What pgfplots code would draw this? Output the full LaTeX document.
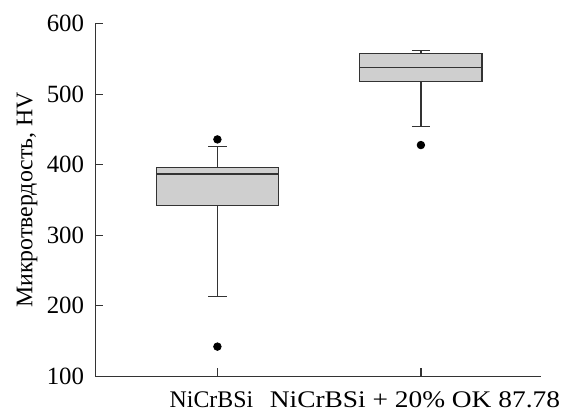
\documentclass[12pt,border=0pt]{standalone}
\usepackage{fontspec}
\setmainfont{Liberation Serif}
\usepackage{graphicx}
\usepackage{pgfplots}
\pgfplotsset{compat=1.18}
\definecolor{boxfill}{HTML}{CFCFCF}
\definecolor{boxline}{HTML}{333333}
\begin{document}
\begin{tikzpicture}
\begin{axis}[
  scale only axis,
  width=224.5pt, height=177.5pt,
  xmin=0.4, xmax=2.59,
  ymin=100, ymax=600,
  axis x line*=bottom, axis y line*=left,
  axis line style={boxline, line width=0.6pt},
  tick style={boxline, line width=0.6pt},
  tick align=inside,
  major tick length=4pt,
  xtick={1,2},
  xticklabels={\hspace*{-6pt}NiCrBSi, \hspace*{-6pt}\scalebox{1.15}[1]{NiCrBSi + 20\% OK 87.78}},
  xticklabel style={font=\fontsize{12}{14}\selectfont, yshift=-3.5pt},
  ytick={100,200,...,600},
  /pgf/number format/assume math mode=true,
  yticklabel style={xshift=-1.5pt, font=\fontsize{12.5}{14}\selectfont},
  ylabel={Микротвердость, HV},
  ylabel style={font=\fontsize{12}{14}\selectfont, yshift=-3.5pt},
]
% box 1
\addplot[draw=boxline, line width=0.6pt] coordinates {(1,396) (1,426)};
\addplot[draw=boxline, line width=0.6pt] coordinates {(1,342) (1,213)};
\addplot[draw=boxline, line width=0.6pt] coordinates {(0.955,426) (1.045,426)};
\addplot[draw=boxline, line width=0.6pt] coordinates {(0.955,213) (1.045,213)};
\addplot[fill=boxfill, draw=boxline, line width=0.6pt] coordinates {(0.7,342) (1.3,342) (1.3,396) (0.7,396)} -- cycle;
\addplot[draw=boxline, line width=0.6pt] coordinates {(0.7,387) (1.3,387)};
% box 2
\addplot[draw=boxline, line width=0.6pt] coordinates {(2,558) (2,562)};
\addplot[draw=boxline, line width=0.6pt] coordinates {(2,518) (2,454)};
\addplot[draw=boxline, line width=0.6pt] coordinates {(1.955,562) (2.045,562)};
\addplot[draw=boxline, line width=0.6pt] coordinates {(1.955,454) (2.045,454)};
\addplot[fill=boxfill, draw=boxline, line width=0.6pt] coordinates {(1.7,518) (2.3,518) (2.3,558) (1.7,558)} -- cycle;
\addplot[draw=boxline, line width=0.6pt] coordinates {(1.7,538) (2.3,538)};
% outliers
\addplot[only marks, mark=*, mark size=1.9pt, mark options={fill=black, draw=black}]
  coordinates {(1,436) (1,142) (2,428)};
\end{axis}
\path (current axis.south west) ++(-48pt,-18pt) rectangle ++(284pt,207.5pt);
\end{tikzpicture}
\end{document}
